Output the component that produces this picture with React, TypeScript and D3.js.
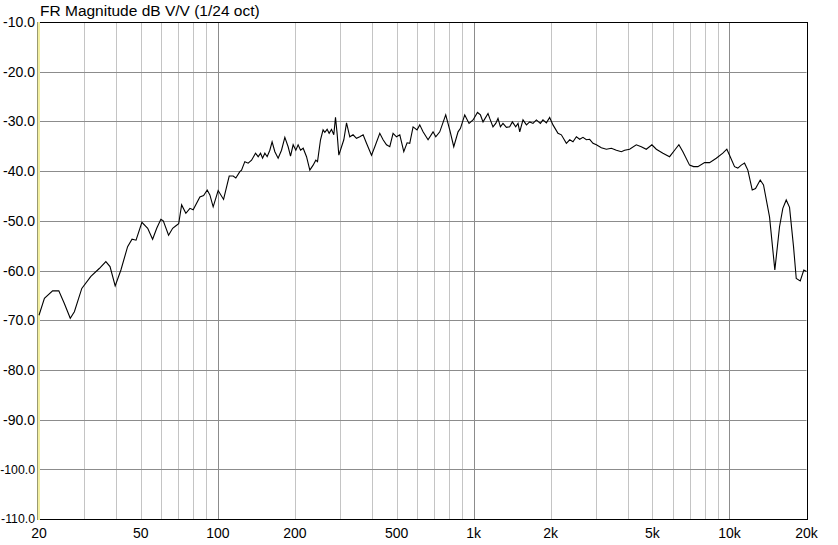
import React from "react";
import * as d3 from "d3";

const freqs: number[] = [
  20, 21.0, 22.6, 23.9, 25.1, 26.5, 27.5, 29.4, 31.9, 34.4, 36.5, 37.9, 39.7, 41.8, 44.4, 46.2, 47.9, 50.5, 53.2, 55.6,
  57.7, 59.9, 61.2, 64.2, 66.6, 68.6, 70.3, 72.2, 75.0, 77.8, 80.1, 85.1, 88.0, 90.9, 93.1, 95.9, 100.3, 105.3, 110.8, 114.8,
  117.6, 121.9, 123.8, 127.5, 131.4, 135.5, 140.4, 143.8, 146.9, 149.6, 152.7, 155.9, 159.7, 163.0, 167.1, 172.1, 177.4, 182.8, 188.3, 192.4,
  197.0, 201.8, 206.0, 210.6, 215.6, 222.2, 228.9, 235.8, 241.5, 245.3, 252.0, 257.9, 262.0, 267.5, 272.3, 278.2, 284.0, 288.4, 292.6, 297.2,
  304.5, 310.8, 318.5, 328.0, 337.8, 348.4, 358.9, 369.8, 381.2, 398.8, 410.8, 429.6, 442.6, 456.4, 470.1, 484.2, 499.3, 514.4, 533.2, 549.3,
  562.6, 579.7, 600.8, 615.6, 634.2, 663.4, 693.9, 711.1, 737.1, 777.7, 806.4, 836.1, 869.0, 888.0, 922.9, 959.4, 994.6, 1035, 1063, 1088,
  1138, 1156, 1190, 1220, 1245, 1272, 1302, 1343, 1383, 1417, 1460, 1491, 1514, 1559, 1608, 1656, 1706, 1759, 1823, 1866,
  1924, 1982, 2042, 2136, 2202, 2304, 2374, 2445, 2521, 2597, 2675, 2758, 2841, 2927, 3018, 3156, 3302, 3454, 3613, 3778,
  3892, 4070, 4322, 4521, 4729, 4974, 5176, 5493, 5832, 6101, 6342, 6575, 6982, 7238, 7524, 7991, 8358, 8879, 9419, 9765,
  10006, 10466, 10780, 11116, 11450, 11796, 12271, 12641, 13188, 13583, 14339, 15040, 15690, 16162, 16664, 17168, 17796, 18236, 18904, 19522,
  20000,
];

const magnitudeDb: number[] = [
  -69.0, -65.6, -64.1, -64.1, -66.6, -69.6, -68.3, -63.6, -61.2, -59.6, -58.2, -59.2, -63.1, -59.9, -55.2, -53.7, -53.9, -50.3, -51.5, -53.7,
  -51.5, -49.7, -50.0, -52.9, -51.5, -51.0, -50.6, -46.8, -48.5, -47.5, -47.8, -45.2, -44.9, -43.8, -44.8, -47.2, -43.9, -45.7, -41.0, -41.0,
  -41.4, -40.1, -39.8, -38.1, -38.4, -37.8, -36.4, -37.1, -36.4, -37.4, -36.4, -37.1, -35.8, -34.1, -36.1, -37.4, -35.8, -33.2, -35.1, -37.0,
  -34.7, -35.8, -34.7, -35.8, -35.4, -37.1, -39.8, -38.8, -37.8, -38.1, -33.7, -31.7, -32.2, -31.6, -32.4, -31.6, -32.7, -29.2, -32.4, -36.8,
  -35.1, -33.7, -30.3, -33.1, -32.7, -33.4, -33.1, -32.7, -34.4, -36.8, -35.1, -32.4, -33.7, -34.7, -35.1, -32.4, -33.1, -32.7, -36.1, -34.3,
  -34.4, -31.1, -31.7, -30.7, -32.1, -33.7, -32.1, -33.1, -32.1, -28.7, -31.7, -35.1, -32.1, -31.4, -28.7, -30.4, -29.7, -28.2, -28.7, -30.1,
  -28.4, -29.4, -31.1, -30.4, -29.4, -31.1, -30.4, -31.2, -31.1, -30.1, -31.1, -30.4, -32.1, -29.7, -30.7, -30.1, -30.4, -29.7, -30.4, -29.7,
  -30.3, -29.2, -30.7, -32.4, -32.7, -34.4, -33.7, -34.1, -33.1, -33.6, -33.2, -33.7, -33.6, -34.4, -34.7, -35.3, -35.6, -35.4, -35.8, -36.1,
  -35.8, -35.6, -34.7, -35.1, -35.6, -34.7, -35.6, -36.4, -37.1, -35.8, -34.7, -36.1, -38.8, -39.1, -39.1, -38.3, -38.3, -37.4, -36.4, -35.6,
  -36.8, -39.1, -39.4, -38.8, -38.4, -39.8, -43.8, -43.5, -41.8, -42.8, -49.2, -59.9, -51.2, -47.5, -45.8, -47.3, -55.2, -61.6, -62.1, -59.9,
  -60.2,
];

const yTicks: number[] = [-10, -20, -30, -40, -50, -60, -70, -80, -90, -100, -110];
const xTickValues: number[] = [20, 50, 100, 200, 500, 1000, 2000, 5000, 10000, 20000];
const xTickLabels: string[] = ["20", "50", "100", "200", "500", "1k", "2k", "5k", "10k", "20k"];
const title = "FR Magnitude dB V/V (1/24 oct)";

const W = 838;
const H = 545;
const L = 39;
const R = 806.5;
const T = 22;
const B = 519;

export default function App() {
  const x = d3.scaleLog().domain([20, 20000]).range([L, R]);
  const y = d3.scaleLinear().domain([-10, -110]).range([T, B]);

  const minor: number[] = [];
  const major: number[] = [];
  for (const dec of [10, 100, 1000, 10000]) {
    for (let m = 1; m <= 9; m++) {
      const f = dec * m;
      if (f <= 20 || f >= 20000) continue;
      if (m === 1) major.push(f);
      else minor.push(f);
    }
  }

  const pts: [number, number][] = freqs.map((f, i) => [f, magnitudeDb[i]]);
  const line = d3
    .line<[number, number]>()
    .x((d) => x(d[0]))
    .y((d) => y(d[1]))
    .curve(d3.curveLinear);

  const crisp = (v: number) => Math.round(v) + 0.5;
  const font = "Arial, 'Liberation Sans', sans-serif";

  return (
    <svg
      width={W}
      height={H}
      style={{ position: "absolute", left: 0, top: 0, background: "#fff" }}
      fontFamily={font}
    >
      <rect x={0} y={0} width={W} height={H} fill="#fff" />
      {minor.map((f) => (
        <line key={"mi" + f} x1={crisp(x(f))} x2={crisp(x(f))} y1={T} y2={B} stroke="#c4c4c4" strokeWidth={1} />
      ))}
      {yTicks.slice(1, -1).map((v) => (
        <line key={"h" + v} x1={L} x2={R} y1={crisp(y(v))} y2={crisp(y(v))} stroke="#8c8c8c" strokeWidth={1} />
      ))}
      {major.map((f) => (
        <line key={"ma" + f} x1={crisp(x(f))} x2={crisp(x(f))} y1={T} y2={B} stroke="#8c8c8c" strokeWidth={1} />
      ))}
      {/* frame */}
      <line x1={L} x2={crisp(R)} y1={crisp(T)} y2={crisp(T)} stroke="#000" strokeWidth={1} />
      <line x1={L} x2={crisp(R)} y1={crisp(B)} y2={crisp(B)} stroke="#000" strokeWidth={1} />
      <line x1={crisp(R)} x2={crisp(R)} y1={T} y2={B + 1} stroke="#000" strokeWidth={1} />
      <rect x={38} y={T} width={2} height={B - T + 1} fill="#f2eea0" />
      <line x1={37.5} x2={37.5} y1={T} y2={B + 1} stroke="#9a9a70" strokeWidth={1} />

      <path d={line(pts) || ""} fill="none" stroke="#000" strokeWidth={1.1} />

      {yTicks.map((v) => {
        const label = v.toFixed(1);
        const long = label.length > 5;
        return (
          <text
            key={"yl" + v}
            x={35}
            y={y(v)}
            dy="0.36em"
            textAnchor="end"
            fontSize={long ? 12.3 : 14}
            fill="#000"
          >
            {label}
          </text>
        );
      })}
      {xTickValues.map((f, i) => (
        <text key={"xl" + f} x={x(f)} y={538} textAnchor="middle" fontSize={14} fill="#000">
          {xTickLabels[i]}
        </text>
      ))}
      <text x={40} y={16} fontSize={15.5} fill="#000">
        {title}
      </text>
    </svg>
  );
}
